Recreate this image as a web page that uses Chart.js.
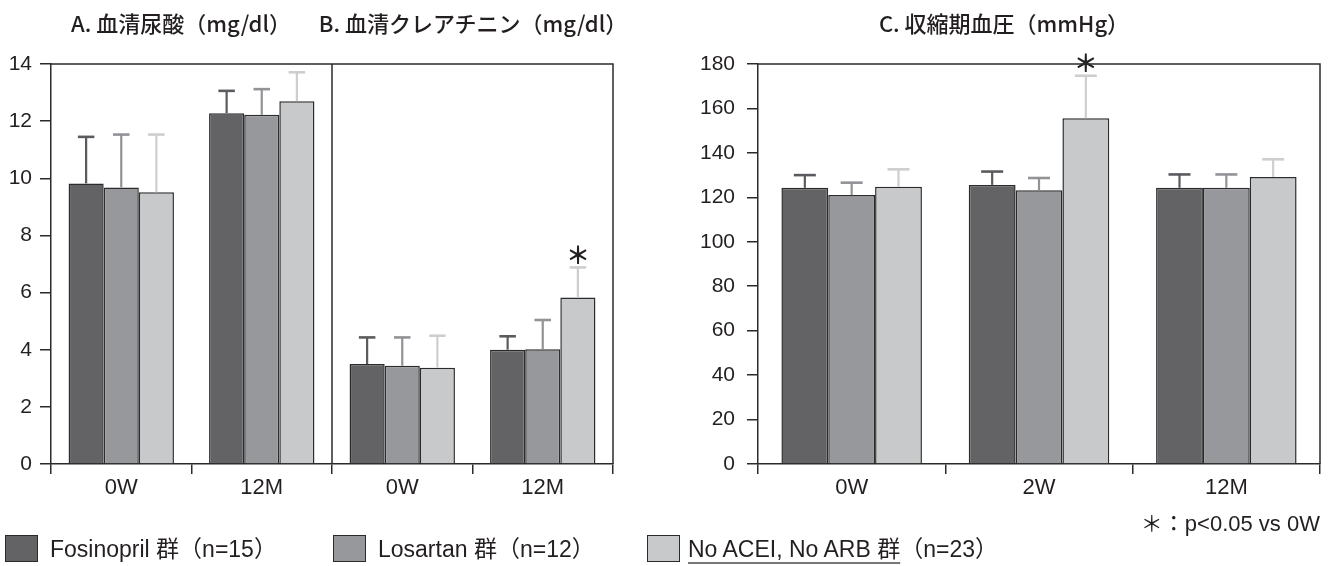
<!DOCTYPE html>
<html>
<head>
<meta charset="utf-8">
<script src="https://cdn.jsdelivr.net/npm/chart.js@4.4.1/dist/chart.umd.min.js"></script>
<style>
  body { margin: 0; background: #fff; }
  #wrap { position: relative; width: 1335px; height: 566px; overflow: hidden; background: #fff;
          font-family: "Liberation Sans", "Noto Sans CJK JP", sans-serif; color: #231f20; }
  canvas { position: absolute; top: 0; }
  .title { position: absolute; top: 7px; font-family: "Noto Sans CJK JP", sans-serif; font-size: 22px;
           font-weight: 500; white-space: nowrap; transform: translateX(-50%); line-height: 30px; }
  .note { position: absolute; right: 15px; top: 511px; font-size: 22px; white-space: nowrap; line-height: 26px; }
  .item { position: absolute; top: 535px; height: 27px; white-space: nowrap; font-size: 23px; line-height: 27px; }
  .box { position: absolute; left: 0; top: 0; width: 33px; height: 27px; border: 1.5px solid #2b2b2b; box-sizing: border-box; }
  .item span.txt { position: absolute; top: 1px; }
  .u { text-decoration: underline; text-decoration-color: #777; text-underline-offset: 5px; }
</style>
</head>
<body>
<div id="wrap">
  <canvas id="left" width="650" height="566" style="left:0"></canvas>
  <canvas id="right" width="655" height="566" style="left:680px"></canvas>
  <div class="title" style="left:181px">A. 血清尿酸（mg/dl）</div>
  <div class="title" style="left:473px">B. 血清クレアチニン（mg/dl）</div>
  <div class="title" style="left:1004px">C. 収縮期血圧（mmHg）</div>
  <div class="note">＊：p&lt;0.05 vs 0W</div>
  <div id="legend"></div>
</div>
<script>
// groups
var groupNames = ["Fosinopril 群", "Losartan 群", "No ACEI, No ARB 群"];
var groupN = ["（n=15）", "（n=12）", "（n=23）"];
var groupColors = ["#636366", "#97989c", "#c8c9cb"];
var errColors = ["#5b5b5f", "#929397", "#cdcecf"];

// A (uric acid) + B (creatinine), same 0-14 axis
var leftLabels = ["0W", "12M", "0W", "12M"];
var fosLeft = [9.82, 12.28, 3.50, 4.00];
var fosLeftSD = [1.63, 0.78, 0.93, 0.47];
var losLeft = [9.68, 12.22, 3.44, 4.02];
var losLeftSD = [1.85, 0.90, 0.99, 1.02];
var noLeft = [9.51, 12.70, 3.37, 5.83];
var noLeftSD = [2.02, 1.01, 1.12, 1.05];
var noLeftSig = [false, false, false, true];

// C (systolic BP)
var rightLabels = ["0W", "2W", "12M"];
var fosRight = [124.3, 125.6, 124.3];
var fosRightSD = [5.7, 6.0, 6.0];
var losRight = [121.0, 123.2, 124.3];
var losRightSD = [5.6, 5.5, 6.0];
var noRight = [124.8, 155.6, 129.2];
var noRightSD = [7.8, 19.1, 7.9];
var noRightSig = [false, true, false];

var ink = "#231f20";

// error bars, asterisks, frame lines
var extras = {
  id: "extras",
  afterDatasetsDraw: function (chart) {
    var ctx = chart.ctx;
    var y = chart.scales.y;
    var area = chart.chartArea;
    chart.data.datasets.forEach(function (ds, di) {
      var meta = chart.getDatasetMeta(di);
      meta.data.forEach(function (bar, i) {
        var top = y.getPixelForValue(ds.data[i] + ds.sd[i]);
        var cap = bar.width * 0.47;
        ctx.save();
        ctx.strokeStyle = ds.errColor;
        ctx.lineWidth = 2.2;
        ctx.beginPath();
        ctx.moveTo(bar.x, bar.y);
        ctx.lineTo(bar.x, top);
        ctx.stroke();
        ctx.lineWidth = 2.6;
        ctx.beginPath();
        ctx.moveTo(bar.x - cap / 2, top);
        ctx.lineTo(bar.x + cap / 2, top);
        ctx.stroke();
        if (ds.sig && ds.sig[i]) {
          ctx.fillStyle = ink;
          ctx.font = "bold 24px 'Noto Sans CJK JP'";
          ctx.textAlign = "center";
          ctx.textBaseline = "middle";
          ctx.fillText("＊", bar.x, top - 13);
        }
        ctx.restore();
      });
    });
    ctx.save();
    ctx.strokeStyle = "#2b2b2b";
    ctx.lineWidth = 1.5;
    ctx.beginPath();
    ctx.moveTo(area.left, area.top);
    ctx.lineTo(area.right, area.top);
    ctx.lineTo(area.right, area.bottom);
    var opts = chart.options.plugins.extras;
    if (opts && opts.divider) {
      var x = chart.scales.x;
      var mid = (x.getPixelForValue(1) + x.getPixelForValue(2)) / 2;
      ctx.moveTo(mid, area.top);
      ctx.lineTo(mid, area.bottom);
    }
    ctx.stroke();
    ctx.restore();
  }
};

function makeSets(values, sds, sigs) {
  return values.map(function (v, k) {
    return {
      label: groupNames[k],
      data: v,
      sd: sds[k],
      sig: sigs[k],
      errColor: errColors[k],
      backgroundColor: groupColors[k],
      borderColor: "#2b2b2b",
      borderWidth: 1.5,
      categoryPercentage: 0.75,
      barPercentage: 1.0
    };
  });
}

function makeOptions(ymax, step, axisWidth, labelPad, padRight, divider) {
  return {
    responsive: false,
    animation: false,
    devicePixelRatio: 1,
    layout: { padding: { top: 64, right: padRight, bottom: 62, left: 0 } },
    plugins: {
      legend: { display: false },
      tooltip: { enabled: false },
      extras: { divider: divider }
    },
    scales: {
      x: {
        grid: { offset: true, drawOnChartArea: false, tickLength: 10, color: "#2b2b2b", lineWidth: 1.5 },
        border: { color: "#2b2b2b", width: 1.5 },
        ticks: { color: ink, padding: 1, font: { family: "Liberation Sans", size: 22 } },
        afterFit: function (s) { s.height = 40; }
      },
      y: {
        min: 0,
        max: ymax,
        grid: { drawOnChartArea: false, tickLength: 11, color: "#2b2b2b", lineWidth: 1.5 },
        border: { color: "#2b2b2b", width: 1.5 },
        ticks: { stepSize: step, color: ink, padding: labelPad, font: { family: "Liberation Sans", size: 21 } },
        afterFit: function (s) { s.width = axisWidth; }
      }
    }
  };
}

new Chart(document.getElementById("left"), {
  type: "bar",
  data: {
    labels: leftLabels,
    datasets: makeSets([fosLeft, losLeft, noLeft], [fosLeftSD, losLeftSD, noLeftSD], [null, null, noLeftSig])
  },
  options: makeOptions(14, 2, 51, 8, 37, true),
  plugins: [extras]
});

new Chart(document.getElementById("right"), {
  type: "bar",
  data: {
    labels: rightLabels,
    datasets: makeSets([fosRight, losRight, noRight], [fosRightSD, losRightSD, noRightSD], [null, null, noRightSig])
  },
  options: makeOptions(180, 20, 78, 12, 15, false),
  plugins: [extras]
});

// legend along the bottom
var legendLeft = [5, 333, 647];
var legend = document.getElementById("legend");
groupNames.forEach(function (name, k) {
  var item = document.createElement("div");
  item.className = "item";
  item.style.left = legendLeft[k] + "px";
  var box = document.createElement("div");
  box.className = "box";
  box.style.background = groupColors[k];
  item.appendChild(box);
  var txt = document.createElement("span");
  txt.className = "txt";
  txt.style.left = (k == 2 ? 41 : 45) + "px";
  var nm = document.createElement("span");
  nm.textContent = name;
  if (k == 2) nm.className = "u";
  txt.appendChild(nm);
  txt.appendChild(document.createTextNode(groupN[k]));
  item.appendChild(txt);
  legend.appendChild(item);
});
</script>
</body>
</html>
